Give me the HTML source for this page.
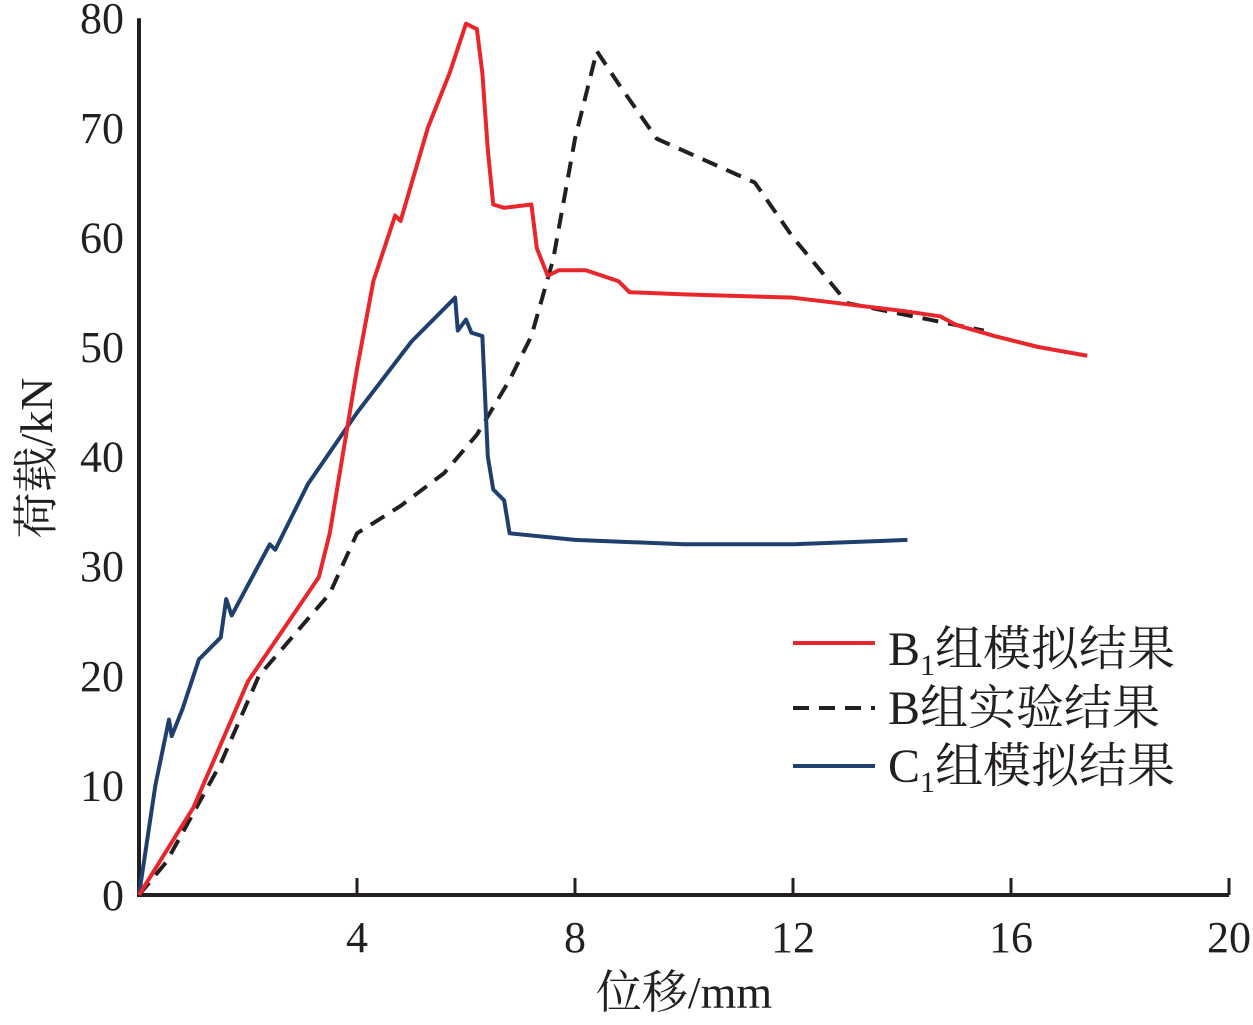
<!DOCTYPE html>
<html><head><meta charset="utf-8"><style>
body{margin:0;background:#fff}
text{font-family:"Liberation Serif","Noto Serif CJK SC",serif;fill:#231f20}
</style></head><body>
<svg width="1253" height="1020">
<g id="axes"></g>
<g id="series"></g>
<g>
<line x1="793" y1="643" x2="875" y2="643" stroke="#e8262b" stroke-width="4"/>
<text x="888" y="665" font-size="48">B<tspan font-size="30" dy="10">1</tspan><tspan dy="-10">组模拟结果</tspan></text>
<line x1="793" y1="708" x2="875" y2="708" stroke="#231f20" stroke-width="4" stroke-dasharray="16,10"/>
<text x="888" y="724" font-size="48">B组实验结果</text>
<line x1="793" y1="766" x2="875" y2="766" stroke="#1f3f6e" stroke-width="4"/>
<text x="888" y="782" font-size="48">C<tspan font-size="30" dy="10">1</tspan><tspan dy="-10">组模拟结果</tspan></text>
</g>
<text x="684" y="1008" font-size="46" text-anchor="middle">位移/mm</text>
<text transform="translate(52,458) rotate(-90)" font-size="46" text-anchor="middle">荷载/kN</text>
</svg>
<script>
const xTicks=[4,8,12,16,20];
const yTicks=[0,10,20,30,40,50,60,70,80];
const b1X=[0,1,2,3.3,3.5,3.8,4,4.3,4.7,4.8,5.3,5.7,6,6.2,6.3,6.4,6.5,6.7,7.2,7.3,7.5,7.7,8.2,8.8,9,10,12,14,14.7,15,15.7,16.5,17.4];
const b1Y=[0,8,19.5,29,33,42,48,56,62,61.5,70,75,79.5,79,75,68,63,62.7,63,59,56.5,57,57,56,55,54.8,54.5,53.3,52.8,52,51,50,49.2];
const bX=[0,0.5,1.5,2.2,3.5,4,4.8,5.6,6.2,6.8,7.2,7.6,8,8.4,8.8,9.5,11.3,12,13,14.5,15.5];
const bY=[0,3,12,20,27.5,33,35.5,38.5,42,47,51,58,69,77,74,69,65,60,54,52.5,51.5];
const c1X=[0,0.3,0.55,0.6,0.8,1.1,1.5,1.6,1.7,2.4,2.5,3.1,4,5,5.8,5.85,6,6.1,6.3,6.4,6.5,6.7,6.8,8,10,12,14.1];
const c1Y=[0,10,16,14.5,17,21.5,23.5,27,25.5,32,31.5,37.5,44,50.5,54.5,51.5,52.5,51.3,51,40,37,36,33,32.4,32,32,32.4];
const NS='http://www.w3.org/2000/svg';
const sx=v=>139+v*54.5, sy=v=>895-v*10.96;
const ax=document.getElementById('axes'), se=document.getElementById('series');
function mk(tag,attrs,parent){const e=document.createElementNS(NS,tag);for(const k in attrs)e.setAttribute(k,attrs[k]);parent.appendChild(e);return e;}
let e=mk('path',{d:`M${sx(0)},${sy(80)}V${sy(0)}H${sx(20)}`,fill:'none',stroke:'#231f20','stroke-width':4},ax);


xTicks.forEach(t=>{
 let l=mk('line',{x1:sx(t),x2:sx(t),y1:sy(0),y2:sy(0)-17,stroke:'#231f20','stroke-width':3},ax);
 
 
 let tx=mk('text',{x:sx(t),y:952,'font-size':44,'text-anchor':'middle'},ax);tx.textContent=t;
 
 
});
yTicks.forEach(t=>{
 let tx=mk('text',{x:124,y:sy(t)+15,'font-size':44,'text-anchor':'end'},ax);tx.textContent=t;
 
 
});
function line(xs,ys,color,dash,name){
 const d=xs.map((x,i)=>(i?'L':'M')+sx(x)+','+sy(ys[i])).join('');
 const p=mk('path',{d,fill:'none',stroke:color,'stroke-width':4,'stroke-linejoin':'round'},se);
 if(dash)p.setAttribute('stroke-dasharray',dash);
 
 
}
line(bX,bY,'#231f20','16,10','b-experiment-line');
line(c1X,c1Y,'#1f3f6e',null,'c1-simulation-line');
line(b1X,b1Y,'#e8262b',null,'b1-simulation-line');
</script>
</body></html>
